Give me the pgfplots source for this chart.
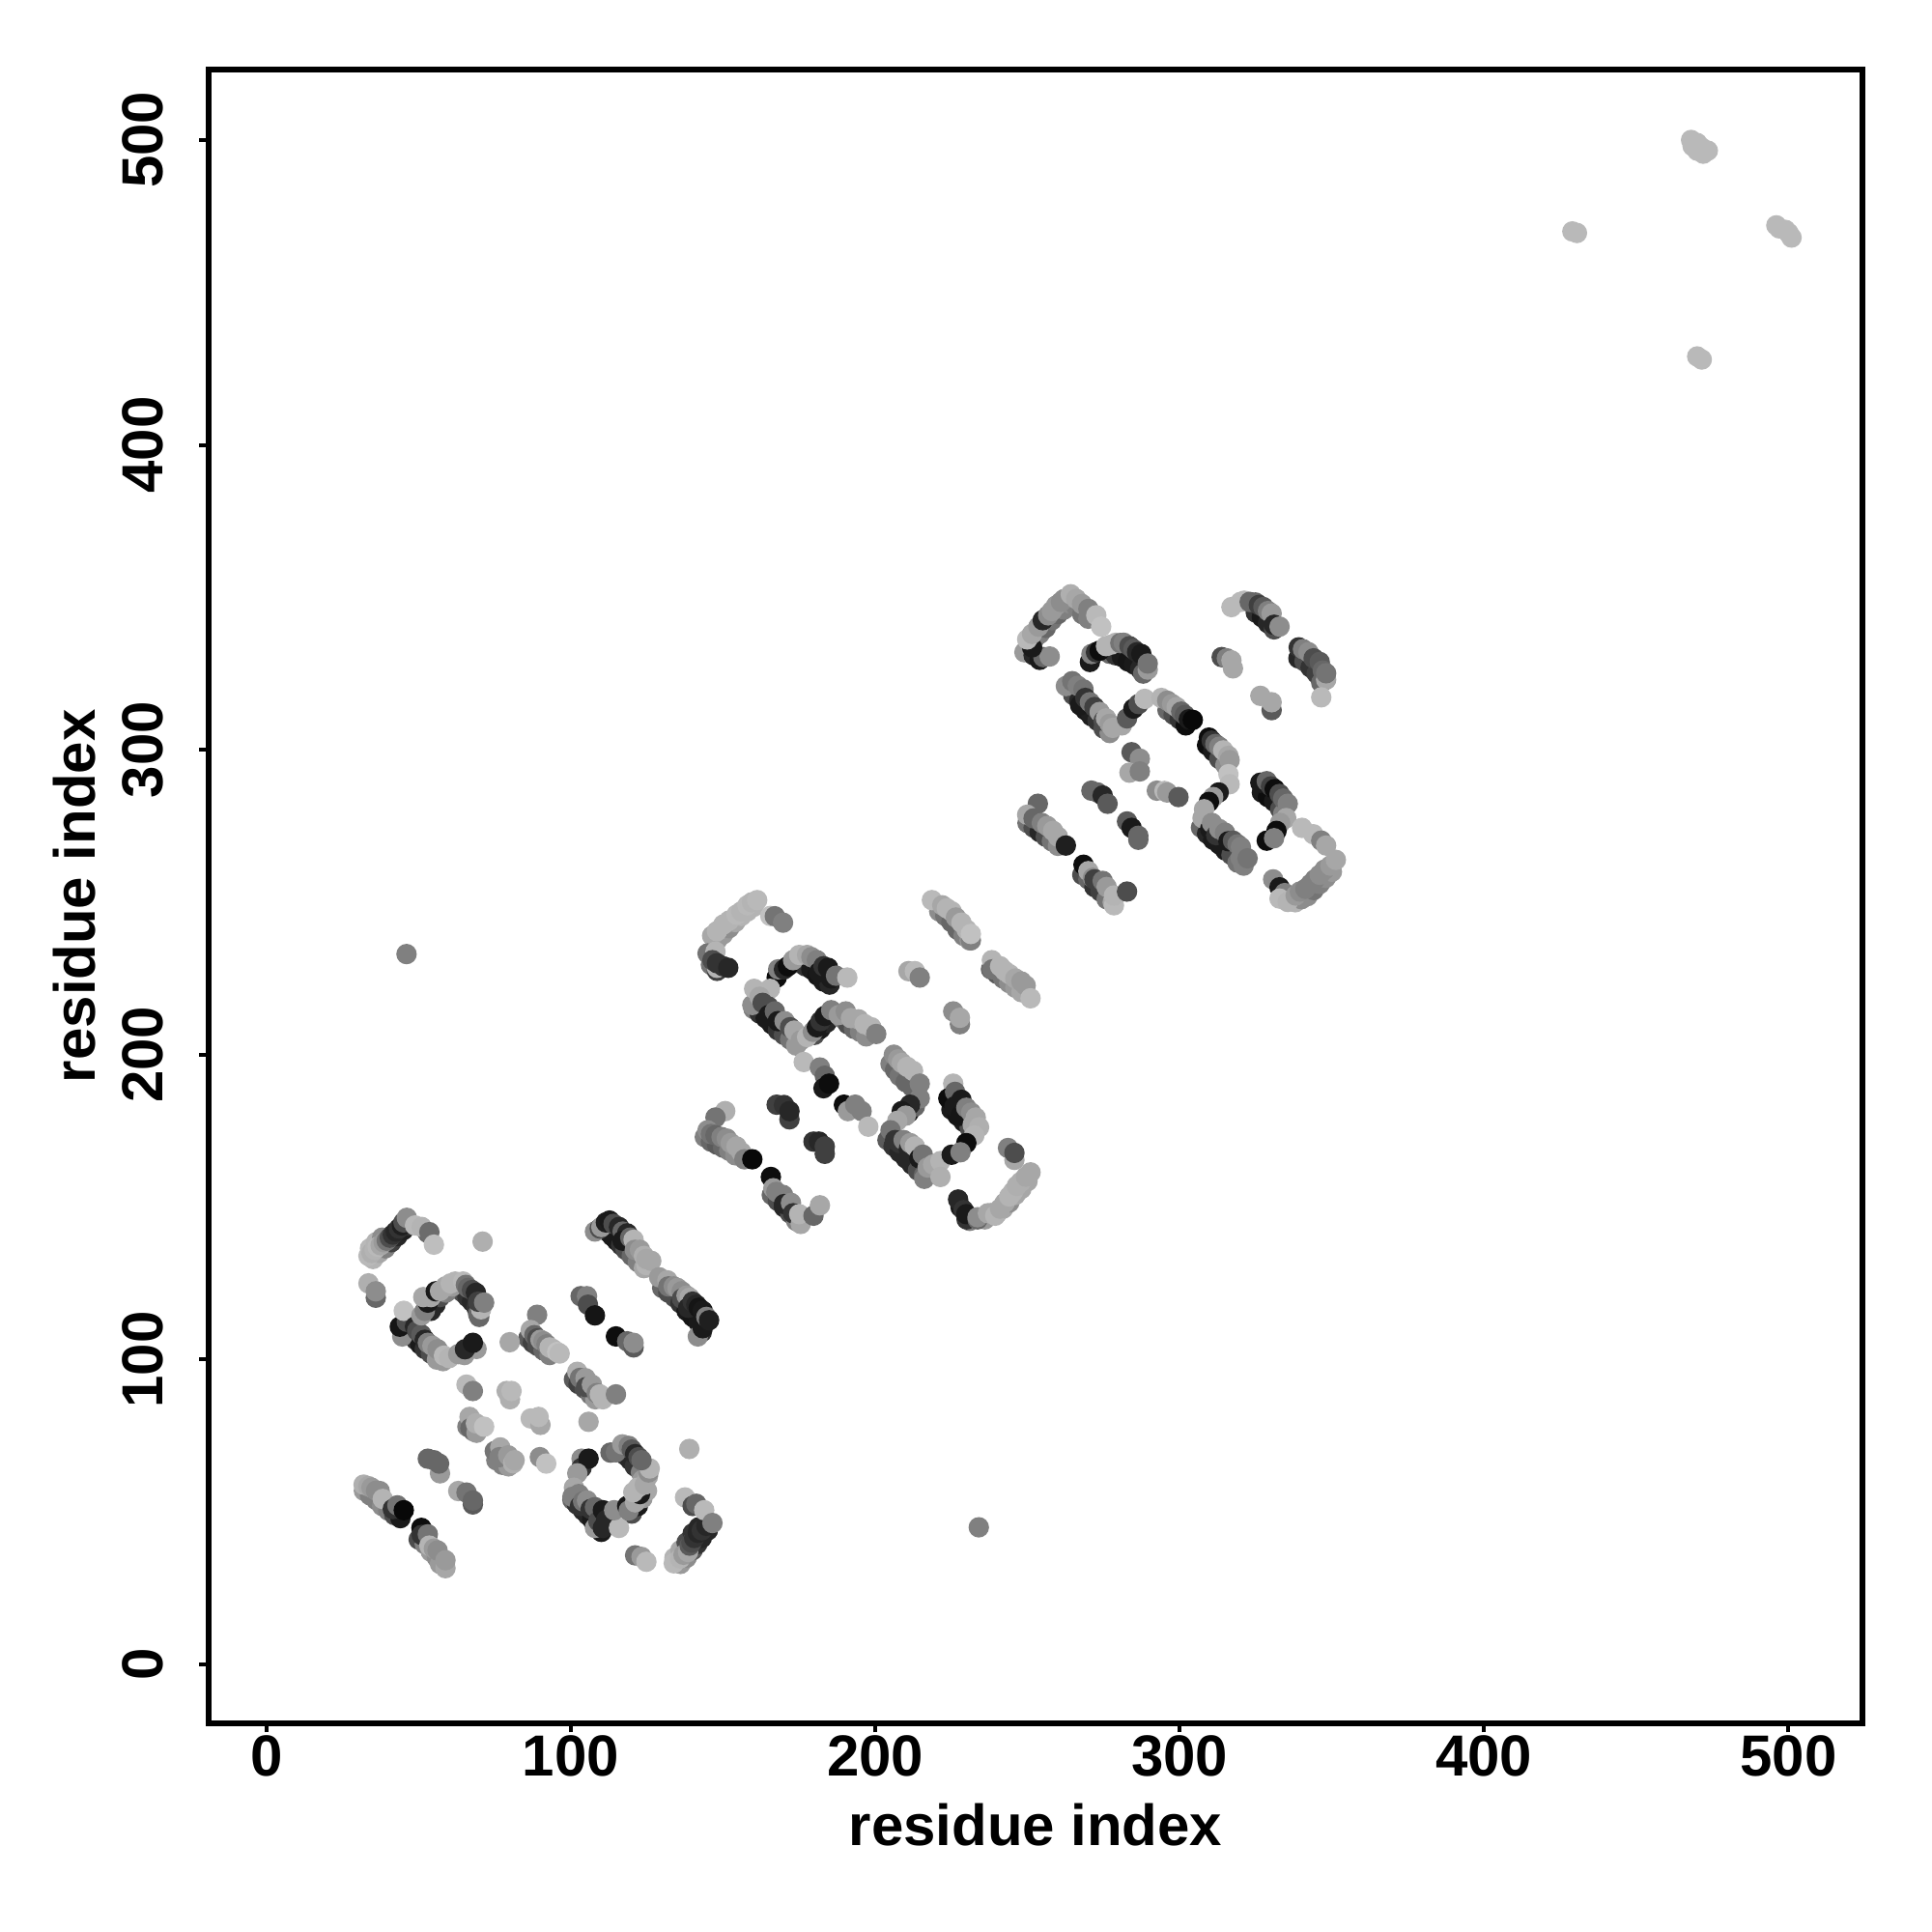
\documentclass[border=0pt]{standalone}
\usepackage{fontspec}
\setmainfont{Liberation Sans}
\usepackage{pgfplots}
\pgfplotsset{compat=1.18}
\begin{document}
\begin{tikzpicture}
\useasboundingbox (0,0) rectangle (1000bp,1000bp);
\begin{axis}[
  at={(108bp,108.15bp)}, anchor=south west,
  width=856bp, height=856bp, scale only axis,
  xmin=-19, xmax=524.3, ymin=-19.2, ymax=523.2,
  xtick={0,100,200,300,400,500}, ytick={0,100,200,300,400,500},
  tick pos=left, tick align=outside, major tick length=4.8bp,
  tick style={line width=2bp,black},
  axis line style={line width=3bp,black},
  /pgf/number format/assume math mode=true,
  tick label style={font=\fontsize{30.1}{36}\selectfont\bfseries},
  label style={font=\fontsize{30.1}{36}\selectfont\bfseries},
  xticklabel style={anchor=base,yshift=-22.7bp},
  yticklabel style={rotate=90,anchor=base,yshift=19bp},
  xlabel={residue index}, ylabel={residue index},
  xlabel style={at={(axis description cs:0.5,0)},anchor=base,yshift=-63.5bp},
  ylabel style={at={(axis description cs:0,0.5)},anchor=base,yshift=58.85bp},
  colormap={bw}{gray(0cm)=(0);gray(1cm)=(1)},
  point meta min=0, point meta max=1,
]
\addplot[scatter, only marks, mark=*, mark size=5.3bp, mark options={draw opacity=0}, scatter src=explicit]
table[row sep=\\, x=x, y=y, meta=g]{
x y g\\
44.6 110.5 .3\\46 109 .15\\47.5 108 .1\\49 106.5 .2\\50.5 105 .1\\52 103.5 .2\\54 102 .3\\56 100 .6\\58 99.5 .6\\
63 123 .5\\64.5 122 .3\\66 120.5 .2\\67.5 119 .15\\69 117 .2\\69.5 115 .4\\
54 116 .15\\55.5 118 .15\\57 120.5 .3\\59 122 .5\\61 124 .6\\
86 107 .35\\87.5 105.5 .25\\89 104.5 .3\\91 103 .4\\93 101.5 .5\\
101 93.5 .35\\102.5 92 .25\\104.5 90.5 .3\\106.5 88.5 .45\\108 87 .6\\
112 142 .1\\113.5 140.5 .1\\115 139 .1\\116.5 137.5 .2\\118 136 .3\\120 134 .4\\122 132 .5\\124 130 .65\\
130 123.5 .4\\132 122 .3\\134 120.5 .3\\136 118.5 .2\\138 116 .1\\140 114 .08\\142 112 .1\\143 109 .2\\
66 78 .5\\68 76.5 .5\\75.5 67 .5\\77.5 65.5 .5\\79.5 65 .6\\
100.5 54 .4\\102 52.5 .2\\104 50.5 .15\\105.5 49 .15\\107 47.5 .1\\109 45.5 .1\\110 43.5 .1\\112 46 .15\\
116 70 .4\\118 68.5 .2\\119.5 67 .15\\121 65 .2\\123 63 .5\\123.5 60.5 .6\\
120 49.5 .3\\122 52 .1\\123.5 54.5 .6\\125 57 .65\\
136 33 .6\\138 35 .55\\140 37.5 .35\\141.5 39.5 .2\\143 41.5 .15\\145 44 .15\\134 35 .7\\136 37.5 .65\\138 40 .3\\140 43 .2\\142 45 .15\\
35 133 .7\\37 135 .65\\39 136.5 .5\\41 138.5 .25\\43 140.5 .15\\45 142.5 .12\\46.5 144 .2\\34 136.5 .72\\36 138.5 .7\\38 140 .55\\
32 57 .6\\34 55.5 .5\\36 54 .5\\38 52 .55\\40 50.5 .5\\42 49 .3\\44 48 .1\\
50 41 .3\\52 39.5 .5\\54 37 .6\\56 35 .55\\57 33 .6\\
148 237.5 .6\\150 239.5 .6\\152 241.5 .55\\154 243.5 .65\\156 245.5 .7\\158 247 .7\\160 248.5 .7\\
146 229.5 .45\\148 227.5 .25\\
175 230 .4\\177 229 .2\\179 228 .1\\181 226 .08\\183 224 .1\\185 223 .15\\
160 215 .5\\162 213.5 .2\\164 212 .1\\166 210 .1\\168 208 .2\\170 206.5 .3\\172 205 .45\\174 203 .6\\
180 206.5 .3\\182 208.5 .1\\184 210.5 .15\\
189 212 .5\\191 210 .3\\193 208.5 .4\\195 207.5 .5\\197 206 .55\\
205 197 .5\\206.5 195 .4\\208 193 .45\\210 191 .4\\212 189.5 .4\\
204 172 .35\\206 170 .2\\208 168 .15\\210 166 .15\\212 164 .15\\214 162 .3\\216 160.5 .4\\
225 182 .1\\227 180 .08\\229 178 .1\\231 176 .3\\232.5 174 .5\\
231 145.5 .5\\236 146 .6\\238 148 .55\\240 148 .65\\242 149.5 .65\\244 151.5 .55\\246 154 .65\\248 156 .65\\250 158.5 .65\\228 150 .1\\230 146 .2\\
144 173 .5\\146 171.5 .4\\148 170.5 .35\\150 169.5 .4\\152 168.5 .5\\154 167 .55\\
166 154 .4\\168 152 .3\\170 150 .15\\172 148 .3\\174 145.5 .5\\
221 247 .55\\223 245.5 .45\\225 243.5 .4\\227 241 .4\\229 239 .5\\231 237.5 .6\\
238 228 .4\\240 226.5 .35\\242 225 .45\\244 223.5 .55\\246 222 .6\\248 220.5 .65\\
250 333 .5\\252 336 .45\\254 338 .5\\256 340 .4\\258 342.5 .45\\260 344.5 .4\\262 346 .5\\264 348 .55\\266 347 .5\\268 344.5 .45\\270 343 .5\\249 332 .6\\252 331 .15\\254 329.5 .1\\
277 331.5 .4\\279 331 .2\\281 330.5 .1\\283 329 .08\\285 328 .1\\287 326.5 .15\\288 325 .4\\
265 318 .3\\267 316 .15\\269 313 .1\\271 311 .12\\273 309.5 .2\\275 307 .3\\277 305.5 .55\\
296 313 .4\\298 311.5 .3\\300 310 .2\\302 308 .05\\
309 301.5 .05\\311 299.5 .1\\313 297 .3\\315 295 .55\\
307 274.5 .4\\309 272.5 .15\\311 270.5 .1\\313 269 .1\\315 267 .1\\317 265.5 .3\\319 263 .45\\321 262 .5\\
327 286 .1\\329 284.5 .05\\331 283 .1\\333 280.5 .3\\334 279 .5\\
336 251 .7\\338 250 .7\\340 251 .55\\342 252 .55\\344 254 .45\\346 256 .5\\348 258 .55\\350 260 .6\\
325 345 .2\\327 343.5 .1\\329 341.5 .15\\331 339.5 .3\\
339 330 .15\\341 329 .3\\343 327 .2\\345 325 .25\\346.5 322 .4\\
250 276 .45\\252 274.5 .3\\254 273 .15\\256 271.5 .3\\258 270 .45\\260 268.5 .55\\
268 259 .3\\270 257.5 .4\\272 255 .2\\274 253.5 .25\\276 251 .45\\278 250 .65\\
470 496.5 .72\\472 495.5 .72\\468.5 498 .72\\211 181 .1\\213 183 .4\\
33.5 134 .72\\34.5 135 .68\\35.5 136 .7\\36.5 137 .72\\37.5 137.5 .65\\38.5 138.5 .6\\39.5 139 .45\\40.5 140 .3\\41.5 141 .2\\42.5 142 .15\\43.5 143 .2\\44.5 144 .12\\45 145 .3\\46.1 146.5 .55\\
53 141.5 .4\\48.8 144 .72\\51 143.5 .7\\53.5 141.8 .42\\55 137.7 .74\\71 138.7 .68\\
35.9 120.3 .4\\33.5 125 .68\\35.9 122.4 .55\\
44.6 107.6 .55\\43.8 110.8 .08\\46.1 112.4 .3\\45.1 116 .75\\48.8 110.8 .15\\49.5 109.5 .3\\50.9 108.2 .35\\52 106.5 .15\\53 105.5 .5\\54.5 104.5 .6\\56.2 103.4 .55\\58.3 101.3 .72\\60 100.5 .7\\
65 101.5 .6\\69 103.5 .6\\63 101.8 .6\\65.2 103.4 .15\\67.8 105.5 .1\\
50.9 114.5 .6\\52 116 .5\\53 118.7 .1\\51.5 120.5 .65\\54 120.5 .65\\55.6 122.4 .1\\57 122.5 .65\\58.8 124 .65\\60.5 125 .7\\62 125.6 .7\\64.6 125.6 .72\\65.5 124.5 .45\\66.2 123.5 .4\\67.5 122.8 .3\\68.8 121.9 .15\\69.9 114 .4\\70.5 116.5 .7\\69.5 119 .25\\71.5 118.7 .5\\
88.9 114.7 .5\\86.8 109.7 .65\\88 108 .4\\89 107 .3\\90 106.5 .6\\91 106 .55\\92 105 .5\\93 104 .7\\94 103.5 .7\\95.5 102.5 .75\\96.3 102 .72\\
79.9 105.7 .65\\103.2 120.8 .4\\105.3 120.8 .5\\105.6 118 .3\\107.9 114.5 .08\\114.8 107.6 .05\\118.5 106 .4\\120.6 104 .35\\120.6 105.5 .55\\
107.9 142 .55\\109.5 143 .3\\110 143.5 .6\\111.5 145 .12\\112.7 145.6 .1\\114 144.5 .3\\115.8 143.5 .15\\117 142 .4\\118.5 141.4 .15\\117 139 .1\\119.5 140 .4\\120.6 139.3 .7\\121 136 .55\\122.7 136 .6\\124 134 .68\\124.8 131 .7\\124.8 133 .65\\126.4 132.4 .65\\
129 127 .6\\131.7 126 .65\\132 124 .45\\133.8 124 .55\\135 123.5 .6\\136.4 122.4 .55\\136.5 120 .3\\138 121 .6\\139 120.3 .65\\138.5 117 .15\\140 119 .2\\141.2 118 .15\\142 117 .08\\143.3 116 .1\\141.7 107.6 .55\\143.3 110.3 .1\\144.5 114 .5\\145.4 112.9 .12\\
102.1 96 .68\\103 94 .45\\104.8 93.9 .6\\105 91 .3\\106.9 91.8 .6\\108.5 89 .5\\109.5 88.6 .7\\110.5 87 .7\\114.8 88.6 .5\\
65.7 91.8 .72\\67.8 89.7 .5\\78.9 89.7 .68\\80 87 .68\\80.5 89.7 .72\\
66.7 81.2 .65\\67 77.5 .4\\69 76 .6\\68.8 79.1 .68\\71.5 78 .75\\
86.8 80.7 .72\\90 78.6 .65\\89.4 81.2 .72\\105.8 79.6 .65\\
75 70 .45\\76.8 71.2 .65\\76.5 68 .5\\79.4 68.6 .6\\81 66 .68\\81.5 67 .65\\89.8 68 .55\\91.9 65.9 .75\\138.9 70.7 .68\\
103.5 67.5 .55\\103.5 64.5 .2\\105.8 67.5 .1\\102.1 62.7 .6\\101 58 .65\\100.5 55 .5\\102.6 55.9 .5\\103 52 .2\\104 53.5 .45\\105.3 53.8 .55\\106.5 51 .2\\107.9 51.6 .4\\107.9 44.8 .6\\109 47 .3\\110.5 44.8 .15\\110.5 50.6 .1\\111.6 47.4 .15\\115.8 44.8 .72\\114.2 50.6 .55\\
118.5 52 .1\\119 50.5 .5\\121.1 53.2 .65\\122.7 55.9 .1\\120.5 56.5 .7\\122 58 .7\\124.3 59 .65\\125.3 61.7 .65\\125.5 63 .55\\125.9 64.3 .7\\
113 69.5 .4\\114.8 69.6 .45\\116.9 72.2 .6\\119 71.7 .5\\120 70.5 .35\\121.1 69 .15\\122.2 68 .3\\123.2 67 .4\\
133.8 33.2 .72\\135.9 34.8 .7\\137 36 .6\\138.5 36.9 .65\\139 39 .35\\139.6 40 .3\\140.5 41.5 .2\\141.7 43.2 .15\\143 44 .2\\144.5 45.5 .15\\137.5 54.8 .72\\140 52 .3\\141.2 52.7 .4\\143.8 50.6 .72\\146.5 46.4 .5\\
121.1 35.8 .45\\123.2 35.3 .6\\124.8 33.7 .72\\
31.9 59 .68\\33.5 58.5 .65\\34.5 58 .6\\36 57 .55\\37.2 56.9 .55\\38.2 54.3 .7\\41.5 51 .2\\43 52.2 .45\\45.1 50.6 .03\\
50.9 44.8 .05\\51 42.5 .2\\53 42.7 .45\\53.5 39 .7\\55 38 .6\\56.2 37.4 .55\\58.8 31.6 .65\\58.8 34.2 .6\\
53 67.5 .4\\55 67 .4\\57 62.7 .6\\56.7 65.9 .4\\63 56.9 .65\\65.7 56.4 .45\\67.8 52.5 .35\\67.8 53.8 .4\\
46 233 .5\\234 45 .5\\
146.4 239 .65\\148 240.5 .7\\150.1 242.7 .7\\152 244 .7\\154.4 245.9 .72\\156 247 .7\\158 249 .72\\159.5 250 .7\\161.2 250.7 .72\\
165.5 245.5 .75\\167 245.4 .45\\169.7 243.3 .5\\
148 228.5 .7\\144.9 233.2 .45\\147.5 233.8 .7\\146.5 231 .3\\148 230 .2\\150 229 .2\\151.7 228.5 .15\\
167.6 225.3 .05\\168.1 228 .5\\170 228 .15\\171.3 229 .05\\173 231 .6\\175 232.7 .7\\177.6 232.7 .65\\179 232 .55\\180.8 231 .5\\181.5 227 .1\\183 229 .2\\184.5 228.5 .1\\185.5 225 .1\\187.1 225.9 .45\\190.8 225.3 .72\\
159.6 216.3 .55\\160.2 221.6 .7\\165.4 221.6 .7\\162 219 .65\\163 217 .3\\164.9 215.8 .3\\165 213 .1\\167 214.2 .4\\168 211 .1\\170.2 211 .55\\172 209 .3\\173.4 207.9 .65\\175.5 204.7 .6\\177.6 205.8 .7\\179.5 207.5 .55\\180.8 209 .1\\182 211 .2\\183.4 212.7 .1\\185.5 214.6 .5\\
188 213 .6\\190.3 214.2 .55\\192 212 .65\\194.5 211.6 .65\\196.5 210 .7\\198.7 209 .7\\200.3 206.8 .5\\
176.5 197.6 .72\\181.8 195.8 .5\\183.4 193.1 .4\\183 189 .1\\184.8 190.5 .05\\
206.1 200 .55\\207.5 198.5 .6\\208.7 197.3 .65\\210.5 196 .7\\212.4 194.7 .7\\214.6 190.5 .5\\
214.6 185.7 .5\\211.4 183.6 .15\\208.7 181.5 .1\\210 180 .6\\207.2 178.3 .65\\
205 175.2 .45\\206.5 172 .2\\208 171 .2\\209.3 172 .5\\211 169 .15\\211.5 171 .6\\213 169.9 .7\\214.5 166 .1\\215.6 167.2 .45\\216.1 159.3 .5\\217.2 163 .6\\219 164 .65\\221.4 165.1 .7\\221.4 159.9 .68\\
225.6 190.5 .7\\224 185.7 .05\\226.2 187.8 .4\\226 183 .1\\228.3 185.2 .1\\228 180 .08\\229.9 182.6 .5\\231.5 181 .55\\233 179.4 .65\\232 177 .65\\234.1 176.2 .68\\
232.5 173.5 .7\\229.9 171 .05\\225.1 167.2 .1\\228 168 .5\\
243.6 169.4 .5\\245.7 165.5 .65\\245.7 167.8 .3\\
227.2 152.5 .15\\229 149 .2\\229.9 147.7 .1\\233.6 146 .4\\233.6 146.7 .55\\237 148 .65\\239.4 147.2 .7\\241 149.5 .65\\242.5 151.4 .65\\244 153.5 .7\\245.2 155 .7\\246.5 157 .68\\247.8 158.3 .68\\249.5 160 .65\\251 161.4 .65\\
150.7 181.5 .68\\147.5 179.4 .45\\144.9 175.2 .55\\146 174 .45\\147.5 173.6 .4\\149.5 173 .5\\151.2 172.5 .55\\152.5 171 .6\\154.4 169.9 .65\\156 168 .65\\157 165.7 .5\\159.6 165.7 .03\\
165.7 159.9 .05\\166.5 156.2 .6\\167.5 155 .5\\169.7 154 .5\\170 151 .15\\172.3 151.4 .55\\173 148 .2\\175.5 144.5 .65\\175 147.7 .7\\179.7 147.2 .4\\181.8 150.6 .65\\
167.6 183.6 .25\\170 183.5 .2\\171.8 178.8 .25\\171.8 181.5 .15\\179.7 171.5 .2\\181.5 171.5 .15\\183.4 167.5 .25\\183.4 169.9 .25\\
189.7 183.6 .05\\191 181.5 .6\\193.4 183.6 .5\\195.5 181.5 .5\\197.7 176.4 .72\\
210.9 227.4 .65\\213 227.4 .72\\214.6 225.3 .5\\225.6 214.2 .55\\227.8 210 .5\\227.8 212.1 .65\\
218.6 250.7 .72\\222 249 .65\\223.5 248 .7\\225.1 247 .7\\226.5 245 .6\\228.3 243.3 .7\\230 241 .7\\231.4 237.5 .5\\231.4 239.6 .75\\
238.3 231 .7\\238.5 228 .45\\241 229 .7\\242.5 227.5 .7\\244.1 226.4 .7\\246 225 .65\\248 224 .6\\249.4 222.7 .6\\251 218.5 .72\\
255.2 330.4 .4\\257.3 330.6 .55\\251.5 333.6 .1\\249.9 336.2 .72\\251.5 338 .65\\253.6 340.4 .6\\255 342.5 .15\\256.8 344.1 .55\\258 345.5 .6\\259.4 347.3 .6\\261 348.5 .55\\262 349.4 .55\\264.2 351 .68\\266 349.5 .65\\267.9 347.8 .6\\270 346.2 .5\\272.6 344.1 .72\\274.2 340.4 .75\\
270.5 328.8 .1\\271 331.4 .5\\272.5 332 .2\\273.7 332.5 .05\\275.8 334 .7\\277.5 334.5 .7\\279 335.1 .7\\280.5 335 .45\\281.6 335.1 .5\\283.5 334 .3\\284.8 333 .35\\286 332 .15\\287.4 331.4 .1\\289.5 326.3 .6\\289.5 328.3 .45\\
262.6 320.9 .55\\264.7 322.5 .45\\266.5 321 .5\\268.4 319.8 .45\\267.3 314.6 .1\\269 317 .2\\270.5 315.6 .45\\272 314 .25\\273.7 312.4 .6\\275 309.5 .3\\275.8 310.3 .65\\277 308.5 .6\\278 307.2 .65\\281 308 .65\\282.7 310.3 .35\\284.8 313.5 .1\\286.5 315 .3\\288.5 316.7 .72\\
294 317 .7\\295.9 316.1 .55\\297.5 315 .6\\299 314 .65\\300.5 312.5 .4\\301.7 311.4 .35\\303 310 .1\\304.3 309.8 .03\\
309.6 304 .05\\310.5 303 .2\\311.7 301.9 .4\\313 301 .5\\314.3 299.8 .7\\316 298 .65\\316.4 296.6 .6\\316 292 .75\\316.4 288.7 .72\\
312.8 286 .1\\311 284.5 .6\\309.6 282.9 .05\\308 280.5 .65\\
307.5 277.6 .65\\310 274 .1\\310.6 276 .55\\312 272 .2\\313 274 .55\\314.9 272.8 .5\\316 270 .1\\317.5 270.2 .35\\319 269 .45\\320.1 268.1 .5\\320 264.5 .5\\322.3 264.4 .45\\
326.5 289.2 .1\\328.6 289.7 .4\\330 288 .25\\331.2 287.1 .05\\332.8 285.5 .3\\334 284 .4\\335.5 282.3 .5\\335 277.6 .65\\333 276 .6\\331.8 273.4 .05\\328.6 270.2 .05\\331 271 .5\\
340.2 274.4 .72\\343.9 272.3 .72\\346.5 270.2 .5\\348.1 268.6 .65\\
330.7 257.5 .55\\332.8 254.9 .1\\334.5 253 .5\\332.8 251.2 .72\\335.5 250.1 .7\\338.1 252.2 .6\\339.5 253.5 .55\\341.3 254.4 .5\\343 256 .5\\344.4 257.5 .5\\346 259 .55\\347.6 260.7 .55\\349.5 262 .6\\351.3 263.9 .65\\
317 346.8 .72\\320 348.5 .72\\321.2 348.9 .72\\323 348.5 .4\\324.9 348.3 .4\\326 347.5 .25\\327.5 346.8 .35\\329 345.5 .5\\330.2 344.7 .6\\331 341 .15\\332.8 340.4 .55\\
339.1 333.6 .2\\340.5 333 .5\\342.3 332 .55\\344 330 .3\\346 328.8 .35\\347 326 .4\\348.1 323 .65\\348.1 325.1 .45\\346.5 317.2 .72\\
313.8 330.4 .3\\315.5 330 .5\\317 329.3 .65\\317.5 326.7 .65\\
326.5 317.7 .65\\330.2 313 .35\\330.2 315.6 .65\\
284.2 299.2 .35\\286.9 297.1 .55\\283.5 292.5 .65\\286.9 292.9 .5\\
292.5 286.6 .55\\295 286.5 .72\\295.9 286 .6\\299.6 284.5 .35\\
271 286.6 .4\\273 286 .4\\274.7 285 .15\\276.3 282.3 .35\\
282.7 276.5 .35\\284.2 274.4 .1\\286.4 270.5 .4\\286.4 271.8 .4\\
253.4 282.3 .4\\249.9 278.7 .65\\252 277.5 .4\\254.7 276 .5\\256.5 275 .6\\258.4 273.4 .65\\260 271.5 .65\\262.6 268.6 .12\\
268.4 262.3 .05\\270 260.2 .65\\271.5 258 .55\\272 257.5 .25\\274.7 257 .45\\276 255 .6\\278.4 249 .72\\278.4 252.2 .7\\282.7 253.5 .3\\
429 470 .72\\430.5 469.5 .72\\
468 500 .72\\470 499 .72\\471.5 497.5 .72\\473.5 496.5 .72\\
496 472 .72\\497 471 .72\\499 470.5 .72\\500 469.5 .72\\501 468 .72\\
470 429 .72\\471.5 428 .72\\
};
\end{axis}
\end{tikzpicture}
\end{document}
